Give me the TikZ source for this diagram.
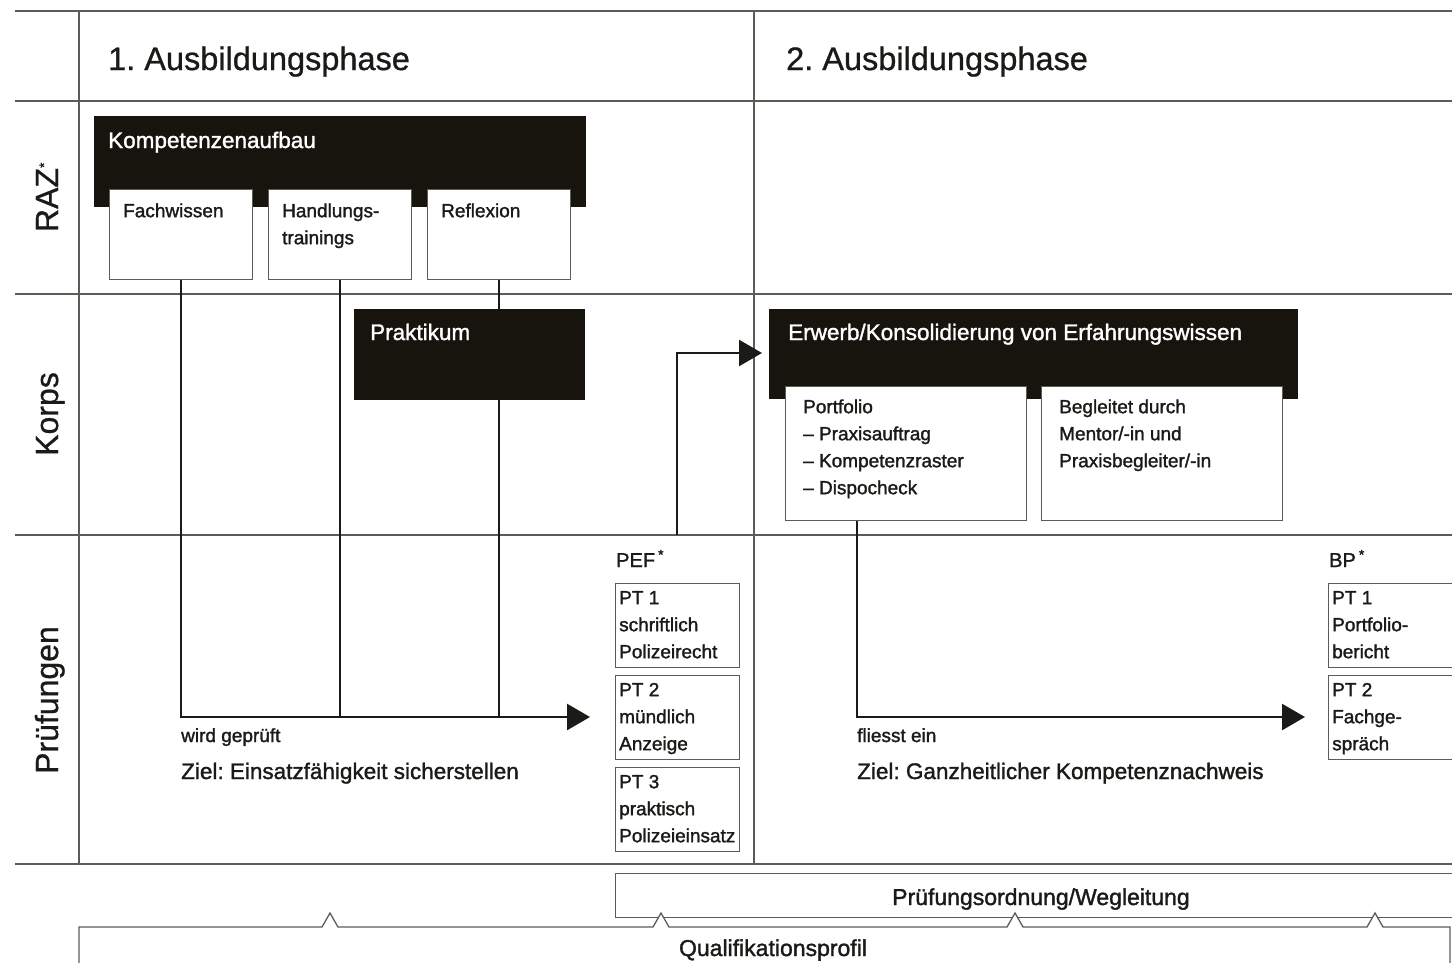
\documentclass[tikz,border=0pt]{standalone}
\usepackage{fontspec}
\setmainfont{Liberation Sans}
\newfontfamily\medfont{Liberation Sans}[FakeBold=1.5]
\newfontfamily\headfont{Liberation Sans}[FakeBold=0.8]
\usetikzlibrary{arrows.meta,calc}
\definecolor{ink}{HTML}{1A1A16}
\definecolor{blk}{HTML}{16140C}
\definecolor{gridc}{HTML}{5C5C56}
\pgfdeclarelayer{bg}
\pgfsetlayers{bg,main}
\newcommand\mystrut{\rule{0pt}{15pt}}
\tikzset{
  gridline/.style={draw=gridc, line width=1.3pt},
  blkbox/.style={fill=blk, draw=none, inner sep=0pt, anchor=north west},
  wbox/.style={fill=white, draw=gridc, line width=1.3pt, inner sep=0pt, anchor=north west},
  conn/.style={draw=ink, line width=2.6pt},
  arr/.style={-{Triangle[length=23pt,width=26pt]}},
  body/.style={font=\medfont\frenchspacing\fontsize{19}{27}\selectfont, text=ink, inner sep=0pt, align=left, anchor=north west},
  small/.style={font=\medfont\frenchspacing\fontsize{19}{27}\selectfont, text=ink, inner sep=0pt, anchor=base west},
  title/.style={font=\medfont\frenchspacing\fontsize{22.5}{27}\selectfont, text=white, inner sep=0pt, anchor=base west},
  ziel/.style={font=\medfont\frenchspacing\fontsize{22.5}{27}\selectfont, text=ink, inner sep=0pt, anchor=base west},
  head/.style={font=\headfont\frenchspacing\fontsize{32.5}{36}\selectfont, text=ink, inner sep=0pt, anchor=base west},
  rowlab/.style={font=\headfont\fontsize{32}{36}\selectfont, text=ink, inner sep=0pt, rotate=90, anchor=base},
  exlab/.style={font=\medfont\fontsize{20}{24}\selectfont, text=ink, inner sep=0pt, anchor=base west},
  botlab/.style={font=\medfont\fontsize{23}{27}\selectfont, text=ink, inner sep=0pt, anchor=base},
}
\begin{document}
\begin{tikzpicture}[x=1pt,y=-1pt]
\useasboundingbox (0,0) rectangle (1452,962);
\clip (0,0) rectangle (1452,962);

% headers and row labels
\node[head] (h1) at (108,70) {1. Ausbildungsphase};
\node[head] (h2) at (786,70) {2. Ausbildungsphase};
\node[rowlab] (lraz) at (58,197) {RAZ\textsuperscript{\fontsize{14}{14}\selectfont *}};
\node[rowlab] (lkorps) at (58,414) {Korps};
\node[rowlab] (lpruef) at (58,700) {Prüfungen};

% RAZ row
\node[blkbox, minimum width=492pt, minimum height=91pt] (komp) at (94,116) {};
\node[title] (kompT) at (108,148) {Kompetenzenaufbau};
\node[wbox, minimum width=143pt, minimum height=90pt] (fach) at (109,189) {};
\node[wbox, minimum width=143pt, minimum height=90pt] (hand) at (268,189) {};
\node[wbox, minimum width=143pt, minimum height=90pt] (refl) at (427,189) {};
\node[body] (fachT) at (123,202) {\mystrut Fachwissen};
\node[body] (handT) at (282,202) {\mystrut Handlungs-\\trainings};
\node[body] (reflT) at (441,202) {\mystrut Reflexion};

% Korps row
\node[blkbox, minimum width=231pt, minimum height=91pt] (prak) at (354,309) {};
\node[title] (prakT) at (370,340) {Praktikum};
\node[blkbox, minimum width=529pt, minimum height=90pt] (erw) at (769,309) {};
\node[title] (erwT) at (788,340) {Erwerb/Konsolidierung von Erfahrungswissen};
\node[wbox, minimum width=241pt, minimum height=134pt] (port) at (785,386) {};
\node[wbox, minimum width=241pt, minimum height=134pt] (begl) at (1041,386) {};
\node[body] (portT) at (803,398) {\mystrut Portfolio\\– Praxisauftrag\\– Kompetenzraster\\– Dispocheck};
\node[body] (beglT) at (1059,398) {\mystrut Begleitet durch\\Mentor/-in und\\Praxisbegleiter/-in};

% Pruefungen row
\node[exlab] (pef) at (616,567) {PEF\hspace{3pt}\textsuperscript{*}};
\node[wbox, minimum width=124pt, minimum height=84pt] (pa1) at (615,583) {};
\node[wbox, minimum width=124pt, minimum height=84pt] (pa2) at (615,675) {};
\node[wbox, minimum width=124pt, minimum height=84pt] (pa3) at (615,767) {};
\node[body] (pa1T) at (619,589) {\mystrut PT 1\\schriftlich\\Polizeirecht};
\node[body] (pa2T) at (619,681) {\mystrut PT 2\\mündlich\\Anzeige};
\node[body] (pa3T) at (619,773) {\mystrut PT 3\\praktisch\\Polizeieinsatz};

\node[exlab] (bp) at (1329,567) {BP\hspace{3pt}\textsuperscript{*}};
\node[wbox, minimum width=140pt, minimum height=84pt] (pb1) at (1328,583) {};
\node[wbox, minimum width=140pt, minimum height=84pt] (pb2) at (1328,675) {};
\node[body] (pb1T) at (1332,589) {\mystrut PT 1\\Portfolio-\\bericht};
\node[body] (pb2T) at (1332,681) {\mystrut PT 2\\Fachge-\\spräch};

\node[small] (wg) at (181,742) {wird geprüft};
\node[ziel] (z1) at (181,779) {Ziel: Einsatzfähigkeit sicherstellen};
\node[small] (fe) at (857,742) {fliesst ein};
\node[ziel] (z2) at (857,779) {Ziel: Ganzheitlicher Kompetenznachweis};

% bottom bars
\node[wbox, minimum width=860pt, minimum height=44pt] (pord) at (615,873) {};
\node[botlab] (pordT) at (1041,905) {Prüfungsordnung/Wegleitung};
\node[botlab] (qualT) at (773,956) {Qualifikationsprofil};

% connector end points
\coordinate (pefIn) at (590,717);
\coordinate (pefUp) at (677,535);
\coordinate (erwIn) at (762,353);
\coordinate (portOut) at (857,520);
\coordinate (bpIn) at (1305,717);

\begin{pgfonlayer}{bg}
  % table grid
  \draw[gridline] (15,11) -- (1460,11);
  \draw[gridline] (15,101) -- (1460,101);
  \draw[gridline] (15,294) -- (1460,294);
  \draw[gridline] (15,535) -- (1460,535);
  \draw[gridline] (15,864) -- (1460,864);
  \draw[gridline] (79,11) -- (79,864);
  \draw[gridline] (754,11) -- (754,864);
  % connectors
  \draw[conn, arr] (fach.south) |- (pefIn);
  \draw[conn] (hand.south) -- (hand.south |- pefIn);
  \draw[conn] (refl.south) -- (refl.south |- pefIn);
  \draw[conn, arr] (pefUp) |- (erwIn);
  \draw[conn, arr] (portOut) |- (bpIn);
\end{pgfonlayer}

% Qualifikationsprofil outline with notches
\fill[white] (322,927) -- (330,913) -- (338,927) -- cycle;
\fill[white] (653,927) -- (661,913) -- (669,927) -- cycle;
\fill[white] (1007,927) -- (1015,913) -- (1023,927) -- cycle;
\fill[white] (1367,927) -- (1375,913) -- (1383,927) -- cycle;
\draw[gridline, line join=miter] (79,970) -- (79,927) -- (322,927) -- (330,913) -- (338,927)
  -- (653,927) -- (661,913) -- (669,927)
  -- (1007,927) -- (1015,913) -- (1023,927)
  -- (1367,927) -- (1375,913) -- (1383,927)
  -- (1450,927) -- (1450,970);
\end{tikzpicture}
\end{document}
